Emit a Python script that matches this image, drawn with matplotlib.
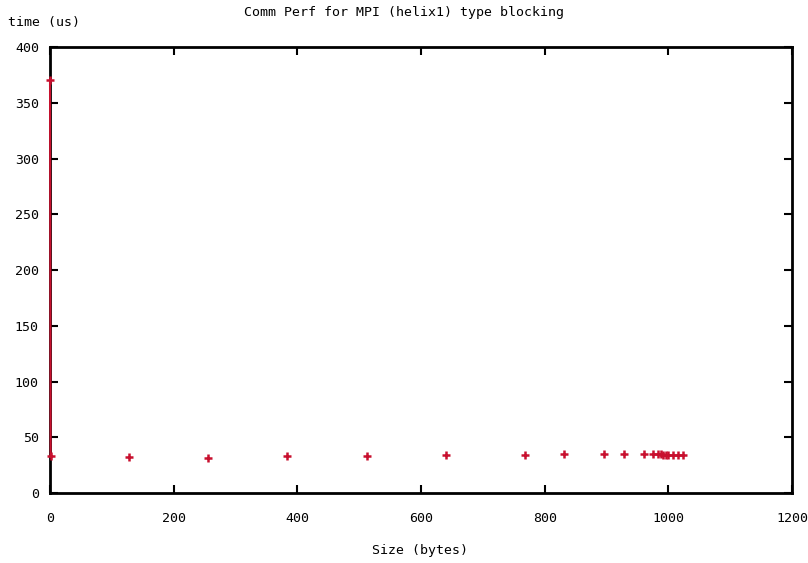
import matplotlib
matplotlib.use("Agg")
import matplotlib.pyplot as plt

# message sizes (bytes) and measured times (us)
sizes = [0, 1, 128, 256, 384, 512, 640, 768, 832, 896, 928, 960,
         976, 984, 988, 992, 996, 1000, 1008, 1016, 1024]
times = [370, 33, 32, 31.5, 33, 33, 34, 34, 35, 35, 35, 35,
         35, 35, 35, 34.5, 34.5, 34, 34, 34, 34]

xticks = [0, 200, 400, 600, 800, 1000, 1200]
yticks = [0, 50, 100, 150, 200, 250, 300, 350, 400]

plt.rcParams['font.family'] = ['DejaVu Sans Mono']
plt.rcParams['font.size'] = 9.5

fig = plt.figure(figsize=(8.08, 5.63), dpi=100)
ax = fig.add_axes([0.0619, 0.1243, 0.9183, 0.7922])

red = '#c8102e'
# the first two samples are joined by a line, the rest are bare points
ax.plot(sizes[:2], times[:2], color=red, lw=1.5, zorder=3, clip_on=False)
ax.plot(sizes, times, linestyle='none', marker='+', color=red,
        markersize=5.5, markeredgewidth=1.8, zorder=3, clip_on=False)

ax.set_xlim(0, 1200)
ax.set_ylim(0, 400)
ax.set_xticks(xticks)
ax.set_yticks(yticks)
ax.tick_params(direction='in', length=6, width=1.5, top=True, right=True,
               pad=14, colors='black')
ax.tick_params(axis='y', pad=8)
for s in ax.spines.values():
    s.set_linewidth(2)

fig.text(0.5, 0.978, 'Comm Perf for MPI (helix1) type blocking',
         ha='center', va='center', fontsize=9.5)
fig.text(0.01, 0.96, 'time (us)', ha='left', va='center', fontsize=9.5)
fig.text(0.52, 0.022, 'Size (bytes)', ha='center', va='center', fontsize=9.5)

fig.savefig('out.png', dpi=100)
